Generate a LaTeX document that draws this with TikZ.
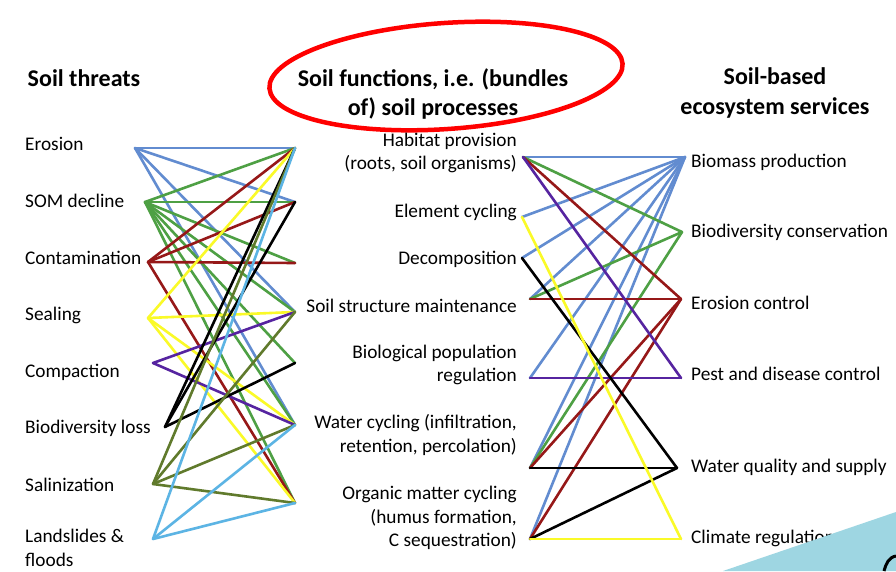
\documentclass[tikz,border=0pt]{standalone}
\usepackage{fontspec}
\setmainfont{Carlito}
\usetikzlibrary{positioning}

\definecolor{lnblue}{RGB}{98,140,208}
\definecolor{lngreen}{RGB}{78,160,68}
\definecolor{lnred}{RGB}{150,24,24}
\definecolor{lnyellow}{RGB}{250,250,40}
\definecolor{lnpurple}{RGB}{86,36,160}
\definecolor{lnolive}{RGB}{96,122,44}
\definecolor{lnsky}{RGB}{92,180,228}
\definecolor{cornerblue}{RGB}{158,214,226}

\tikzset{
  link/.style={line width=2.6pt, line cap=round},
  lbl/.style={font=\fontsize{19.3}{23.5}\selectfont, inner sep=0pt},
  head/.style={font=\fontsize{24}{29.5}\selectfont\bfseries, inner sep=0pt, align=center},
}

\begin{document}
\begin{tikzpicture}[x=1pt,y=-1pt]
    \useasboundingbox[fill=white] (0,0) rectangle (896,571);

    % Headers
    \node[head] (hthreats) at (84,78) {Soil threats};
    \node[head] (hfunctions) at (433,94) {Soil functions, i.e. (bundles\\of) soil processes};
    \node[head] (hservices) at (775,93) {Soil-based\\ecosystem services};
    \draw[red, line width=4.5pt, rotate around={4:(446,76)}] (446,76) ellipse (177 and 53);

    % Soil threats
    \node[lbl, anchor=west] (erosion) at (25,144) {Erosion};
    \node[lbl, anchor=west] (som) at (25,201) {SOM decline};
    \node[lbl, anchor=west] (contam) at (25,258) {Contamination};
    \node[lbl, anchor=west] (sealing) at (25,315) {Sealing};
    \node[lbl, anchor=west] (compact) at (25,372) {Compaction};
    \node[lbl, anchor=west] (bioloss) at (25,428) {Biodiversity loss};
    \node[lbl, anchor=west] (salin) at (25,485) {Salinization};
    \node[lbl, anchor=west, align=left] (slides) at (25,548) {Landslides \&\\floods};

    % Soil functions
    \node[lbl, anchor=east, align=right] (habitat) at (517,153) {Habitat provision\\(roots, soil organisms)};
    \node[lbl, anchor=east] (element) at (517,212) {Element cycling};
    \node[lbl, anchor=east] (decomp) at (517,259) {Decomposition};
    \node[lbl, anchor=east] (structure) at (517,306) {Soil structure maintenance};
    \node[lbl, anchor=east, align=right] (popreg) at (517,365) {Biological population\\regulation};
    \node[lbl, anchor=east, align=right] (water) at (517,435) {Water cycling (infiltration,\\retention, percolation)};
    \node[lbl, anchor=east, align=right] (organic) at (517,518) {Organic matter cycling\\(humus formation,\\C sequestration)};

    % Soil-based ecosystem services
    \node[lbl, anchor=west] (biomass) at (691,162) {Biomass production};
    \node[lbl, anchor=west] (biodiv) at (691,232) {Biodiversity conservation};
    \node[lbl, anchor=west] (erocontrol) at (691,303) {Erosion control};
    \node[lbl, anchor=west] (pest) at (691,374) {Pest and disease control};
    \node[lbl, anchor=west] (wquality) at (691,467) {Water quality and supply};
    \node[lbl, anchor=west] (climate) at (691,538) {Climate regulation};

    % Line ends
    \coordinate (t1) at (135,148);
    \coordinate (t2) at (145,202);
    \coordinate (t3) at (148,262);
    \coordinate (t4) at (148,318);
    \coordinate (t5) at (153,363);
    \coordinate (t6) at (165,427);
    \coordinate (t7) at (153,484);
    \coordinate (t8) at (153,539);
    \foreach \i/\y in {1/148,2/202,3/263,4/312,5/363,6/425,7/503}
        \coordinate (fl\i) at (295,\y);
    \foreach \i/\x/\y in {1/523/157,2/522/217,3/522/258,4/530/299,5/530/378,6/530/468,7/530/539}
        \coordinate (fr\i) at (\x,\y);
    \coordinate (s1) at (685,157);
    \coordinate (s2) at (682,232);
    \coordinate (s3) at (681,299);
    \coordinate (s4) at (681,378);
    \coordinate (s5) at (677,468);
    \coordinate (s6) at (681,539);

    % Threats -> functions
    \foreach \f in {1,2,4,6} \draw[link, lnblue] (t1) -- (fl\f);
    \foreach \f in {1,...,7} \draw[link, lngreen] (t2) -- (fl\f);
    \foreach \f in {1,2,3,7} \draw[link, lnred] (t3) -- (fl\f);
    \foreach \f in {1,4,6,7} \draw[link, lnyellow] (t4) -- (fl\f);
    \foreach \f in {4,6} \draw[link, lnpurple] (t5) -- (fl\f);
    \foreach \f in {1,2,5} \draw[link, black] (t6) -- (fl\f);
    \foreach \f in {1,4,6,7} \draw[link, lnolive] (t7) -- (fl\f);
    \foreach \f in {1,6,7} \draw[link, lnsky] (t8) -- (fl\f);

    % Functions -> services
    \foreach \f in {1,...,7} \draw[link, lnblue] (s1) -- (fr\f);
    \foreach \f in {1,4,6} \draw[link, lngreen] (s2) -- (fr\f);
    \foreach \f in {1,4,6,7} \draw[link, lnred] (s3) -- (fr\f);
    \foreach \f in {1,5} \draw[link, lnpurple] (s4) -- (fr\f);
    \foreach \f in {3,6,7} \draw[link, black] (s5) -- (fr\f);
    \foreach \f in {2,7} \draw[link, lnyellow] (s6) -- (fr\f);

    % Corner
    \fill[cornerblue] (723,571) -- (896,512) -- (896,571) -- cycle;
    \draw[line width=3pt] (884,571) to[out=75,in=190] (896,556);
\end{tikzpicture}
\end{document}
